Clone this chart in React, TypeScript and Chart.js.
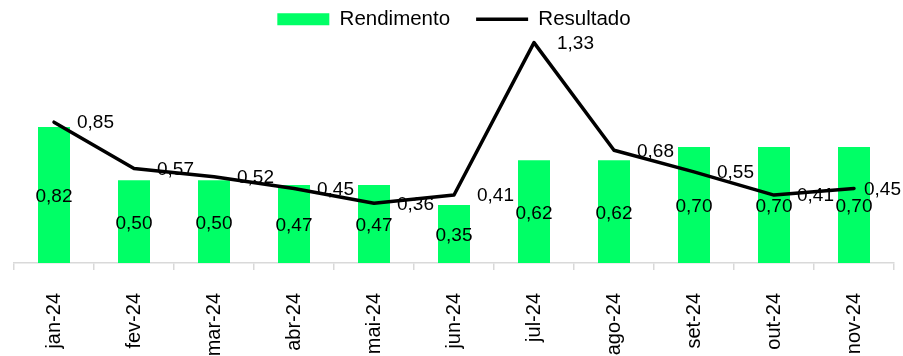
import React, { useEffect, useRef } from "react";
import { Chart, registerables } from "chart.js";

Chart.register(...registerables);

const categories = ["jan-24", "fev-24", "mar-24", "abr-24", "mai-24", "jun-24", "jul-24", "ago-24", "set-24", "out-24", "nov-24"];
const rendimento = [0.82, 0.5, 0.5, 0.47, 0.47, 0.35, 0.62, 0.62, 0.7, 0.7, 0.7];
const resultado = [0.85, 0.57, 0.52, 0.45, 0.36, 0.41, 1.33, 0.68, 0.55, 0.41, 0.45];

const FONT = "'Liberation Sans', Arial, sans-serif";
const fmt = (v: number) => v.toFixed(2).replace(".", ",");

const labelPlugin = {
  id: "valueLabels",
  afterDatasetsDraw(chart: any) {
    const ctx = chart.ctx;
    ctx.save();
    ctx.font = `19px ${FONT}`;
    ctx.fillStyle = "#000";
    ctx.textBaseline = "middle";
    chart.data.datasets.forEach((ds: any, i: number) => {
      const meta = chart.getDatasetMeta(i);
      meta.data.forEach((el: any, j: number) => {
        const txt = fmt(ds.data[j]);
        if (ds.type === "bar") {
          ctx.textAlign = "center";
          ctx.fillText(txt, el.x, (el.y + el.base) / 2 + 2);
        } else {
          ctx.textAlign = "left";
          const w = ctx.measureText(txt).width;
          let x = el.x + 23;
          if (x + w > chart.width - 2) x = chart.width - 2 - w;
          ctx.fillText(txt, x, el.y + 1);
        }
      });
    });
    ctx.restore();
  },
};

export default function App() {
  const ref = useRef<HTMLCanvasElement>(null);
  useEffect(() => {
    if (!ref.current) return;
    Chart.defaults.font.family = FONT;
    const chart = new Chart(ref.current, {
      type: "bar",
      data: {
        labels: categories,
        datasets: [
          {
            type: "bar",
            label: "Rendimento",
            data: rendimento,
            backgroundColor: "#00FF66",
            borderWidth: 0,
            barPercentage: 0.4,
            categoryPercentage: 1,
            order: 2,
            pointStyle: "rect",
          } as any,
          {
            type: "line",
            label: "Resultado",
            data: resultado,
            borderColor: "#000",
            backgroundColor: "#000",
            borderWidth: 3.5,
            borderJoinStyle: "round",
            borderCapStyle: "round",
            pointRadius: 0,
            pointHoverRadius: 0,
            pointStyle: "line",
            tension: 0,
            order: 1,
            clip: false,
          } as any,
        ],
      },
      options: {
        responsive: false,
        animation: false,
        layout: { padding: { left: 14, right: 9, top: -17, bottom: 0 } },
        plugins: {
          tooltip: { enabled: false },
          legend: {
            position: "top",
            maxHeight: 48,
            labels: {
              usePointStyle: true,
              pointStyleWidth: 52,
              boxHeight: 12,
              padding: 26,
              color: "#000",
              font: { size: 20.5, family: FONT },
              sort: (a: any, b: any) => a.datasetIndex - b.datasetIndex,
            },
          } as any,
        },
        scales: {
          x: {
            grid: { drawOnChartArea: false, drawTicks: true, tickLength: 7, color: "#d9d9d9", lineWidth: 1.5 },
            border: { color: "#d9d9d9", width: 1.5 },
            ticks: { minRotation: 90, maxRotation: 90, padding: 23, color: "#000", font: { size: 20, family: FONT } },
            afterFit: (scale: any) => {
              scale.height = 93;
            },
          },
          y: { display: false, min: 0, max: 1.4 },
        },
      },
      plugins: [labelPlugin],
    });
    return () => chart.destroy();
  }, []);
  return (
    <canvas ref={ref} width={903} height={356} style={{ position: "absolute", left: 0, top: 0 }} />
  );
}
